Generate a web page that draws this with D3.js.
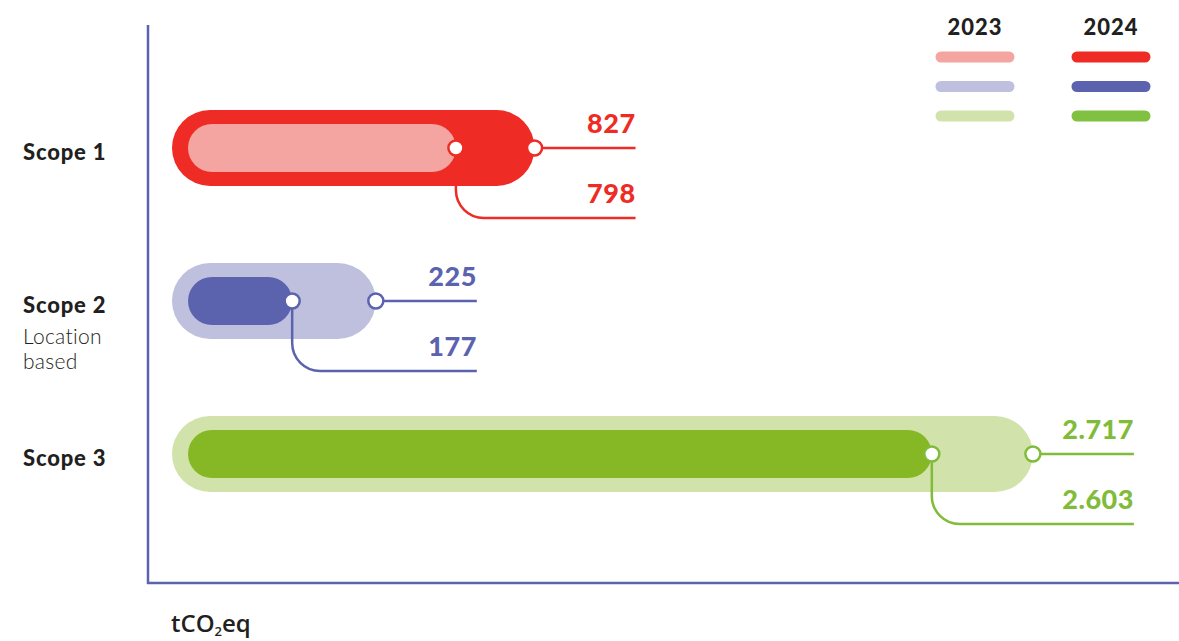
<!DOCTYPE html>
<html>
<head>
<meta charset="utf-8">
<script src="https://cdnjs.cloudflare.com/ajax/libs/d3/7.8.5/d3.min.js"></script>
<style>
  html, body { margin: 0; padding: 0; background: #fff; }
  svg { display: block; }
</style>
</head>
<body>
<div id="chart"></div>
<script>
// ---- data ----
const scopes = ["Scope 1", "Scope 2", "Scope 3"];
const scopeNotes = [[], ["Location", "based"], []];
const years = ["2023", "2024"];
const values2023 = [798, 225, 2717];
const values2024 = [827, 177, 2603];
const lightColors = ["#f4a5a1", "#bec0de", "#d1e3aa"];
const darkColors = ["#ee2b24", "#5b62ae", "#86b825"];
const lineColors = ["#ee2b24", "#5b62ae", "#80bc3a"];
const legendDark = ["#ee2b24", "#5b62ae", "#80c141"];

const width = 1179, height = 641;
const axisColor = "#5b62ae";
const ink = "#231f20";
const font = "Lato, 'Open Sans', sans-serif";

const svg = d3.select("#chart").append("svg")
  .attr("width", width)
  .attr("height", height);

// european number format: 2.717
const locale = d3.formatLocale({decimal: ",", thousands: ".", grouping: [3], currency: ["", "€"]});
const fmt = locale.format(",");

const x = d3.scaleLinear().domain([0, 3000]).range([281, 1072]);
const y = d3.scalePoint().domain(scopes).range([148, 454]);

const outerLeft = 172, innerLeft = 188;
const outerH = 76, innerH = 48;
const knobOffset = 35.5;   // circles sit either side of the value
const leaderLen = 101;
const drop = 70, bend = 28;

// axes (plain lines, no ticks)
svg.append("line")
  .attr("x1", 148).attr("x2", 148).attr("y1", 25).attr("y2", 584)
  .attr("stroke", axisColor).attr("stroke-width", 2.5);
svg.append("line")
  .attr("x1", 147).attr("x2", width).attr("y1", 583).attr("y2", 583)
  .attr("stroke", axisColor).attr("stroke-width", 2.5);

const rows = scopes.map((s, i) => {
  const a = values2023[i], b = values2024[i];
  const outerIs24 = b >= a;
  return {
    scope: s,
    notes: scopeNotes[i],
    outer: outerIs24 ? b : a,
    inner: outerIs24 ? a : b,
    outerColor: outerIs24 ? darkColors[i] : lightColors[i],
    innerColor: outerIs24 ? lightColors[i] : darkColors[i],
    line: lineColors[i]
  };
});

const g = svg.selectAll("g.row")
  .data(rows)
  .join("g")
  .attr("class", "row")
  .attr("transform", d => `translate(0,${y(d.scope)})`);

// outer pill
g.append("rect")
  .attr("x", outerLeft)
  .attr("y", -outerH / 2)
  .attr("height", outerH)
  .attr("rx", outerH / 2)
  .attr("width", d => x(d.outer) + knobOffset - outerLeft)
  .attr("fill", d => d.outerColor);

// inner pill
g.append("rect")
  .attr("x", innerLeft)
  .attr("y", -innerH / 2)
  .attr("height", innerH)
  .attr("rx", innerH / 2)
  .attr("width", d => x(d.inner) - knobOffset - innerLeft)
  .attr("fill", d => d.innerColor);

// leader to outer value
g.append("line")
  .attr("x1", d => x(d.outer) + knobOffset)
  .attr("x2", d => x(d.outer) + knobOffset + leaderLen)
  .attr("y1", 0).attr("y2", 0)
  .attr("stroke", d => d.line)
  .attr("stroke-width", 2.5);

// leader to inner value (down, bend, across)
g.append("path")
  .attr("d", d => {
    const xi = x(d.inner) - knobOffset;
    const xe = x(d.outer) + knobOffset + leaderLen;
    return `M${xi},0 V${drop - bend} A${bend},${bend} 0 0 0 ${xi + bend},${drop} H${xe}`;
  })
  .attr("fill", "none")
  .attr("stroke", d => d.line)
  .attr("stroke-width", 2.5);

// knobs
g.append("circle")
  .attr("cx", d => x(d.outer) + knobOffset)
  .attr("r", 7.5)
  .attr("fill", "#fff")
  .attr("stroke", d => d.line)
  .attr("stroke-width", 2.5);
g.append("circle")
  .attr("cx", d => x(d.inner) - knobOffset)
  .attr("r", 7.5)
  .attr("fill", "#fff")
  .attr("stroke", d => d.line)
  .attr("stroke-width", 2.5);

// value labels
[["outer", -15], ["inner", 55]].forEach(([key, dy]) => {
  g.append("text")
    .attr("x", d => x(d.outer) + knobOffset + leaderLen)
    .attr("y", dy)
    .attr("text-anchor", "end")
    .attr("fill", d => d.line)
    .style("font-family", font)
    .style("font-weight", 900)
    .style("font-size", "27px")
    .style("letter-spacing", "0.5px")
    .text(d => fmt(d[key]));
});

// scope labels
g.append("text")
  .attr("x", 23)
  .attr("y", 12)
  .attr("fill", ink)
  .style("font-family", font)
  .style("font-weight", 900)
  .style("font-size", "22px")
  .style("letter-spacing", "0.8px")
  .text(d => d.scope);
g.selectAll("text.note")
  .data(d => d.notes)
  .join("text")
  .attr("class", "note")
  .attr("x", 23)
  .attr("y", (d, i) => 43 + i * 25)
  .attr("fill", ink)
  .style("font-family", font)
  .style("font-weight", 300)
  .style("font-size", "21px")
  .style("letter-spacing", "0.3px")
  .text(d => d);

// legend
const legendX = d3.scalePoint().domain(years).range([975, 1111]);
const legendY = d3.scalePoint().domain(d3.range(scopes.length)).range([57, 116]);

svg.selectAll("text.year")
  .data(years)
  .join("text")
  .attr("class", "year")
  .attr("x", d => legendX(d))
  .attr("y", 35)
  .attr("text-anchor", "middle")
  .attr("fill", ink)
  .style("font-family", font)
  .style("font-weight", 900)
  .style("font-size", "22px")
  .style("letter-spacing", "1px")
  .text(d => d);

years.forEach((yr, k) => {
  const cols = k === 0 ? lightColors : legendDark;
  svg.selectAll(`line.leg${yr}`)
    .data(cols)
    .join("line")
    .attr("class", `leg${yr}`)
    .attr("x1", legendX(yr) - 34)
    .attr("x2", legendX(yr) + 34)
    .attr("y1", (c, i) => legendY(i))
    .attr("y2", (c, i) => legendY(i))
    .attr("stroke", c => c)
    .attr("stroke-width", 11)
    .attr("stroke-linecap", "round");
});

// unit label
const unit = svg.append("text")
  .attr("x", 171)
  .attr("y", 632)
  .attr("fill", ink)
  .style("font-family", "'Open Sans', sans-serif")
  .style("font-weight", 600)
  .style("font-size", "24px");
unit.append("tspan").text("tCO");
unit.append("tspan").attr("dy", 4).style("font-size", "13px").text("2");
unit.append("tspan").attr("dy", -4).text("eq");
</script>
</body>
</html>
